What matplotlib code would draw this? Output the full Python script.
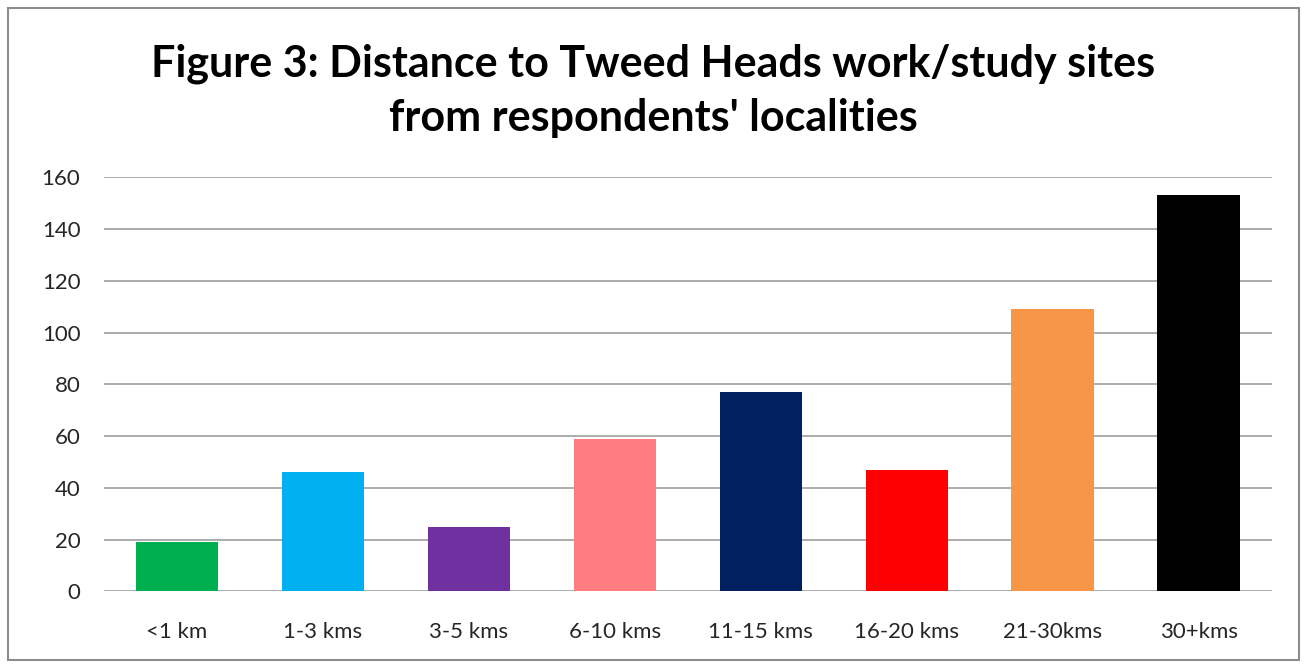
import matplotlib.pyplot as plt
from matplotlib.patches import Rectangle

# data
categories = ['<1 km', '1-3 kms', '3-5 kms', '6-10 kms', '11-15 kms',
              '16-20 kms', '21-30kms', '30+kms']
counts = [19, 46, 25, 59, 77, 47, 109, 153]
bar_colors = ['#00b050', '#00b0f0', '#7030a0', '#ff7c80', '#002060',
              '#ff0000', '#f79646', '#000000']
y_ticks = [0, 20, 40, 60, 80, 100, 120, 140, 160]

plt.rcParams['font.family'] = ['Lato', 'DejaVu Sans']

fig = plt.figure(figsize=(13.07, 6.68), dpi=100)
ax = fig.add_axes([0.0796, 0.1148, 0.8934, 0.6198])

x = range(len(categories))
ax.bar(x, counts, width=0.566, color=bar_colors, zorder=3)

ax.set_xlim(-0.5, len(categories) - 0.5)
ax.set_ylim(0, 160)
ax.set_yticks(y_ticks)
ax.set_xticks(list(x))
ax.set_xticklabels(categories)
ax.tick_params(axis='both', length=0, labelsize=16, colors='#262626')
ax.tick_params(axis='x', pad=22)
ax.tick_params(axis='y', pad=17)
ax.grid(axis='y', color='#a6a6a6', linewidth=1.3, zorder=0)
for s in ax.spines.values():
    s.set_visible(False)

fig.text(0.5, 0.8862, "Figure 3: Distance to Tweed Heads work/study sites",
         ha='center', va='baseline', fontsize=31, fontweight='bold')
fig.text(0.5, 0.8039, "from respondents' localities",
         ha='center', va='baseline', fontsize=31, fontweight='bold')

# outer chart border
fig.patches.append(Rectangle((8 / 1307, 1 - 660 / 668), 1291 / 1307, 652 / 668,
                             transform=fig.transFigure, fill=False,
                             edgecolor='#8c8c8c', linewidth=1.5))

fig.savefig('out.png', dpi=100)
